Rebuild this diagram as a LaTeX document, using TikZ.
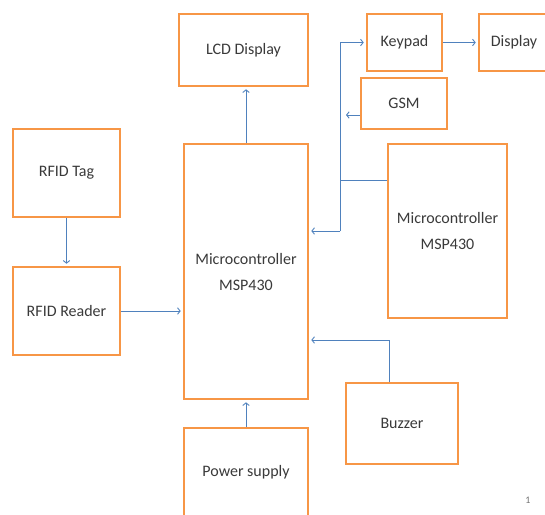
\documentclass[tikz,border=0pt]{standalone}
\usepackage{fontspec}
\setmainfont{Carlito}
\usetikzlibrary{arrows.meta}
\definecolor{boxorange}{HTML}{F79646}
\definecolor{linkblue}{HTML}{4F81BD}
\definecolor{txtgray}{HTML}{3A3A3A}
\begin{document}
\begin{tikzpicture}[x=1pt,y=1pt,
  blk/.style={draw=boxorange, line width=2.6pt, fill=white, text=txtgray,
    align=center, inner sep=0pt, font=\fontsize{16}{26}\selectfont},
  link/.style={draw=linkblue, line width=0.9pt},
  arr/.style={link, -{Straight Barb[length=2.6pt,width=6.5pt]}, shorten >=2pt}]
\clip (0,0) rectangle (545,-514);
\fill[white] (0,0) rectangle (545,-514);
% blocks
\node[blk, minimum width=129pt, minimum height=72pt] (lcd) at (243.5,-50) {LCD Display};
\node[blk, minimum width=75pt, minimum height=57pt] (keypad) at (404.5,-42.5) {Keypad};
\node[blk, minimum width=70pt, minimum height=57pt] (disp) at (514,-42.5) {Display};
\node[blk, minimum width=86pt, minimum height=51pt] (gsm) at (404,-103.5) {GSM};
\node[blk, minimum width=119pt, minimum height=174pt] (mcu2) at (447.5,-231) {Microcontroller\\MSP430};
\node[blk, minimum width=124pt, minimum height=255pt] (mcu) at (246,-271.5) {Microcontroller\\MSP430};
\node[blk, minimum width=107pt, minimum height=88pt] (tag) at (66.5,-173) {RFID Tag};
\node[blk, minimum width=107pt, minimum height=88pt] (reader) at (66.5,-311) {RFID Reader};
\node[blk, minimum width=124pt, minimum height=88pt] (power) at (246,-472) {Power supply};
\node[blk, minimum width=112pt, minimum height=81pt] (buzzer) at (402,-423.5) {Buzzer};
\node[text=black!55, font=\fontsize{10}{12}\selectfont, inner sep=0pt] (pg) at (528,-500) {1};
% helper coordinates
\coordinate (btop) at (340,-42.5);
\coordinate (bmid) at (340,-180);
\coordinate (bbot) at (340,-231);
\coordinate (gsmtip) at (346,-115);
\coordinate (bzc) at (389,-340);
% connectors
\draw[arr] (tag) -- (reader);
\draw[arr] (reader) -- (mcu.west |- reader);
\draw[arr] (power.north) -- (mcu.south -| power.north);
\draw[arr] (mcu.north) -- (mcu.north |- lcd.south);
\draw[link] (bbot) -- (btop);
\draw[arr] (btop) -- (keypad.west);
\draw[arr] (bbot) -- (bbot -| mcu.east);
\draw[link] (mcu2.west |- bmid) -- (bmid);
\draw[arr, shorten >=0pt] (gsm.west |- gsmtip) -- (gsmtip);
\draw[arr] (keypad.east) -- (disp.west);
\draw[arr] (buzzer.north -| bzc) -- (bzc) -- (bzc -| mcu.east);
\end{tikzpicture}
\end{document}
